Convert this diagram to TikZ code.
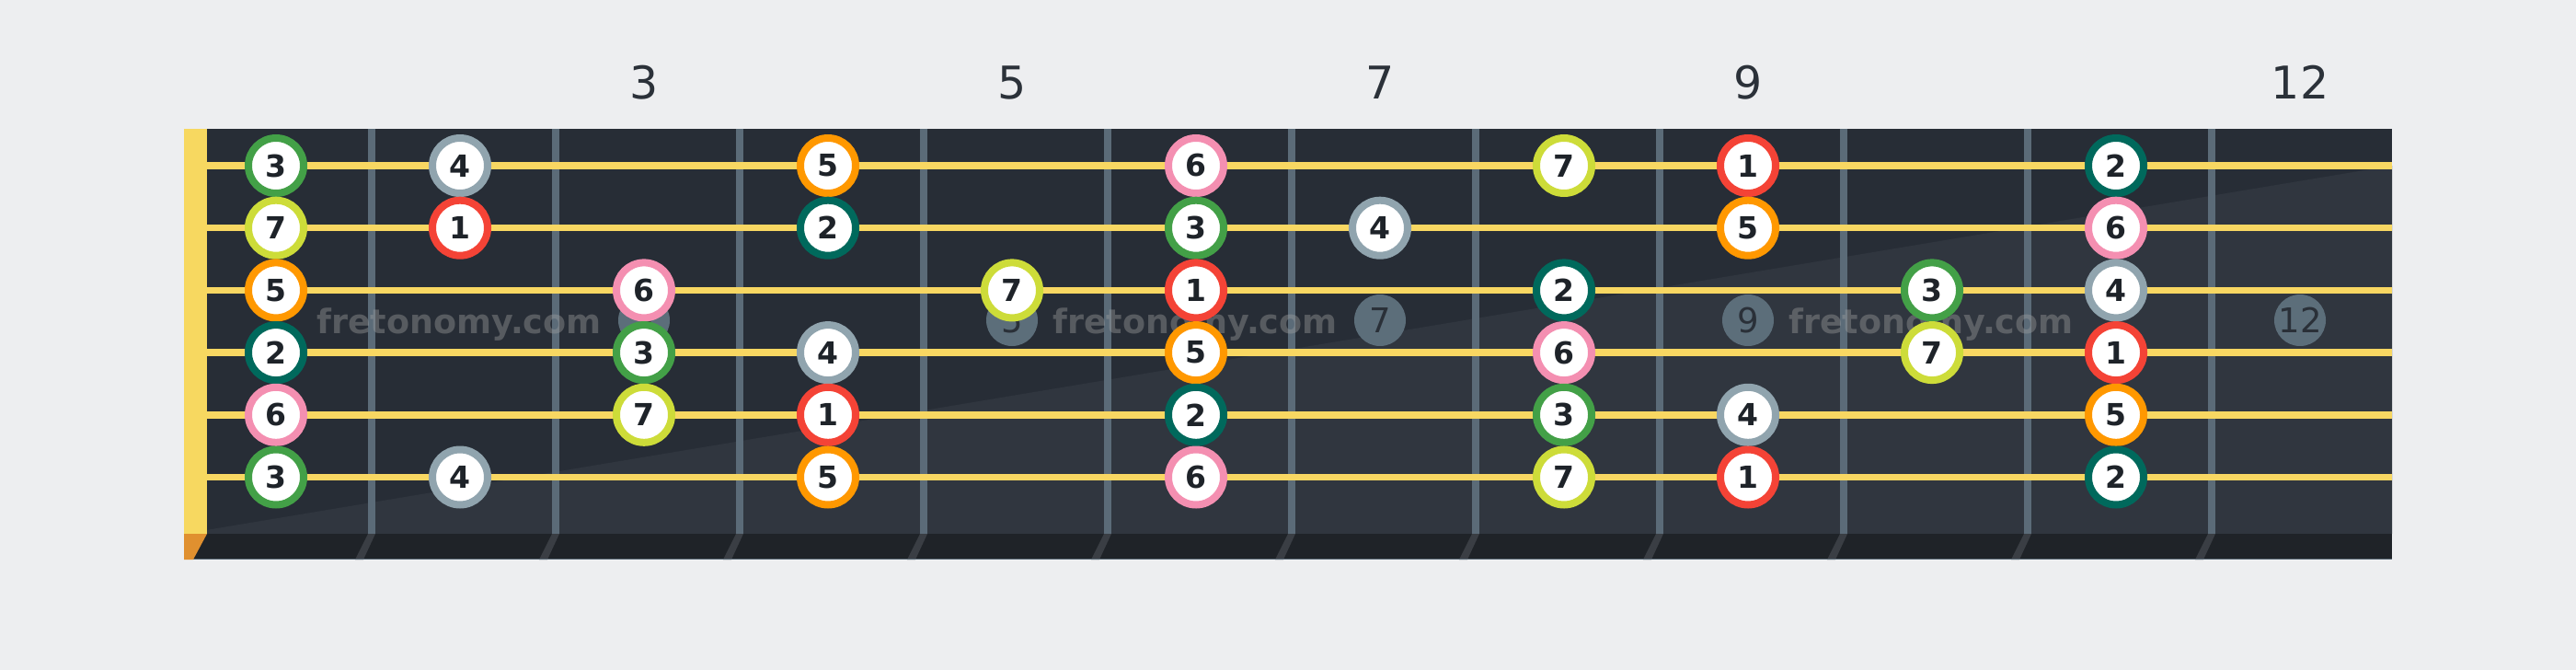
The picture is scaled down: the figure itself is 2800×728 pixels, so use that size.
\documentclass[tikz,border=0pt]{standalone}
\usepackage{fontspec}
\setmainfont{DejaVu Sans}
\definecolor{pagebg}{HTML}{EDEEF0}
\definecolor{boardA}{HTML}{272D36}
\definecolor{boardB}{HTML}{30363F}
\definecolor{fretc}{HTML}{5B6B78}
\definecolor{stripc}{HTML}{1F2328}
\definecolor{slantc}{HTML}{3A3E44}
\definecolor{nutc}{HTML}{F7D860}
\definecolor{nutbot}{HTML}{E0902F}
\definecolor{stringc}{HTML}{F8D762}
\definecolor{inlayc}{HTML}{5C6E7A}
\definecolor{inlaytext}{HTML}{2A3038}
\definecolor{headtext}{HTML}{2B3139}
\definecolor{notetext}{HTML}{1E2329}
\definecolor{wmark}{HTML}{A0A0A0}
\definecolor{deg1}{HTML}{F44336}
\definecolor{deg2}{HTML}{00695C}
\definecolor{deg3}{HTML}{43A047}
\definecolor{deg4}{HTML}{90A4AE}
\definecolor{deg5}{HTML}{FF9800}
\definecolor{deg6}{HTML}{F48FB1}
\definecolor{deg7}{HTML}{CDDC39}
\tikzset{
  note/.style={circle, fill=white, line width=8pt, minimum size=60pt, inner sep=0pt,
    text=notetext, font=\fontsize{33}{33}\selectfont\bfseries},
  inlay/.style={circle, fill=inlayc, minimum size=56pt, inner sep=0pt,
    text=inlaytext, font=\fontsize{37}{37}\selectfont},
  header/.style={anchor=base, text=headtext, inner sep=0pt, font=\fontsize{49}{49}\selectfont},
  watermark/.style={anchor=base, text=wmark, text opacity=0.4, inner sep=0pt,
    font=\fontsize{36.5}{36.5}\selectfont\bfseries},
  stringline/.style={draw=stringc, line width=7.5pt},
  fretline/.style={fill=fretc},
}
\begin{document}
\begin{tikzpicture}[x=1pt,y=-1pt]
\fill[pagebg] (0,0) rectangle (2800,728);
\useasboundingbox (0,0) rectangle (2800,728);
% board
\fill[boardA] (200,140) rectangle (2600,580);
\fill[boardB] (200,580) -- (2600,180) -- (2600,580) -- cycle;
% frets
\foreach \k in {1,...,11} {
  \fill[fretline] ({400+200*(\k-1)},140) rectangle ({408+200*(\k-1)},580);
}
% bottom strip
\fill[stripc] (200,580) rectangle (2600,608);
\foreach \k in {1,...,11} {
  \fill[slantc] ({400+200*(\k-1)},580) -- ({408+200*(\k-1)},580) -- ({395+200*(\k-1)},608) -- ({386+200*(\k-1)},608) -- cycle;
}
\draw[fretc, line width=1.5pt] (200,607.3) -- (2600,607.3);
% nut
\fill[nutc] (200,140) rectangle (225,580);
\fill[nutbot] (200,580) -- (225,580) -- (210,608) -- (200,608) -- cycle;
% header fret numbers
\node[header] (h3) at (700,107) {3};
\node[header] (h5) at (1100,107) {5};
\node[header] (h7) at (1500,107) {7};
\node[header] (h9) at (1900,107) {9};
\node[header] (h12) at (2500,107) {12};
% inlays
\node[inlay] (i3) at (700,348) {3};
\node[inlay] (i5) at (1100,348) {5};
\node[inlay] (i7) at (1500,348) {7};
\node[inlay] (i9) at (1900,348) {9};
\node[inlay] (i12) at (2500,348) {12};
% watermarks
\node[watermark] (w1) at (499,362.7) {fretonomy.com};
\node[watermark] (w2) at (1299,362.7) {fretonomy.com};
\node[watermark] (w3) at (2099,362.7) {fretonomy.com};
% strings
\foreach \s in {1,...,6} {
  \draw[stringline] (225,{180+67.7*(\s-1)}) -- (2600,{180+67.7*(\s-1)});
}
% notes
\foreach \s/\f/\d in {
  1/1/3, 1/2/4, 1/4/5, 1/6/6, 1/8/7, 1/9/1, 1/11/2,
  2/1/7, 2/2/1, 2/4/2, 2/6/3, 2/7/4, 2/9/5, 2/11/6,
  3/1/5, 3/3/6, 3/5/7, 3/6/1, 3/8/2, 3/10/3, 3/11/4,
  4/1/2, 4/3/3, 4/4/4, 4/6/5, 4/8/6, 4/10/7, 4/11/1,
  5/1/6, 5/3/7, 5/4/1, 5/6/2, 5/8/3, 5/9/4, 5/11/5,
  6/1/3, 6/2/4, 6/4/5, 6/6/6, 6/8/7, 6/9/1, 6/11/2} {
  \node[note, draw=deg\d] (n\s-\f) at ({200*\f+100},{180+67.7*(\s-1)}) {\d};
}
\end{tikzpicture}
\end{document}
